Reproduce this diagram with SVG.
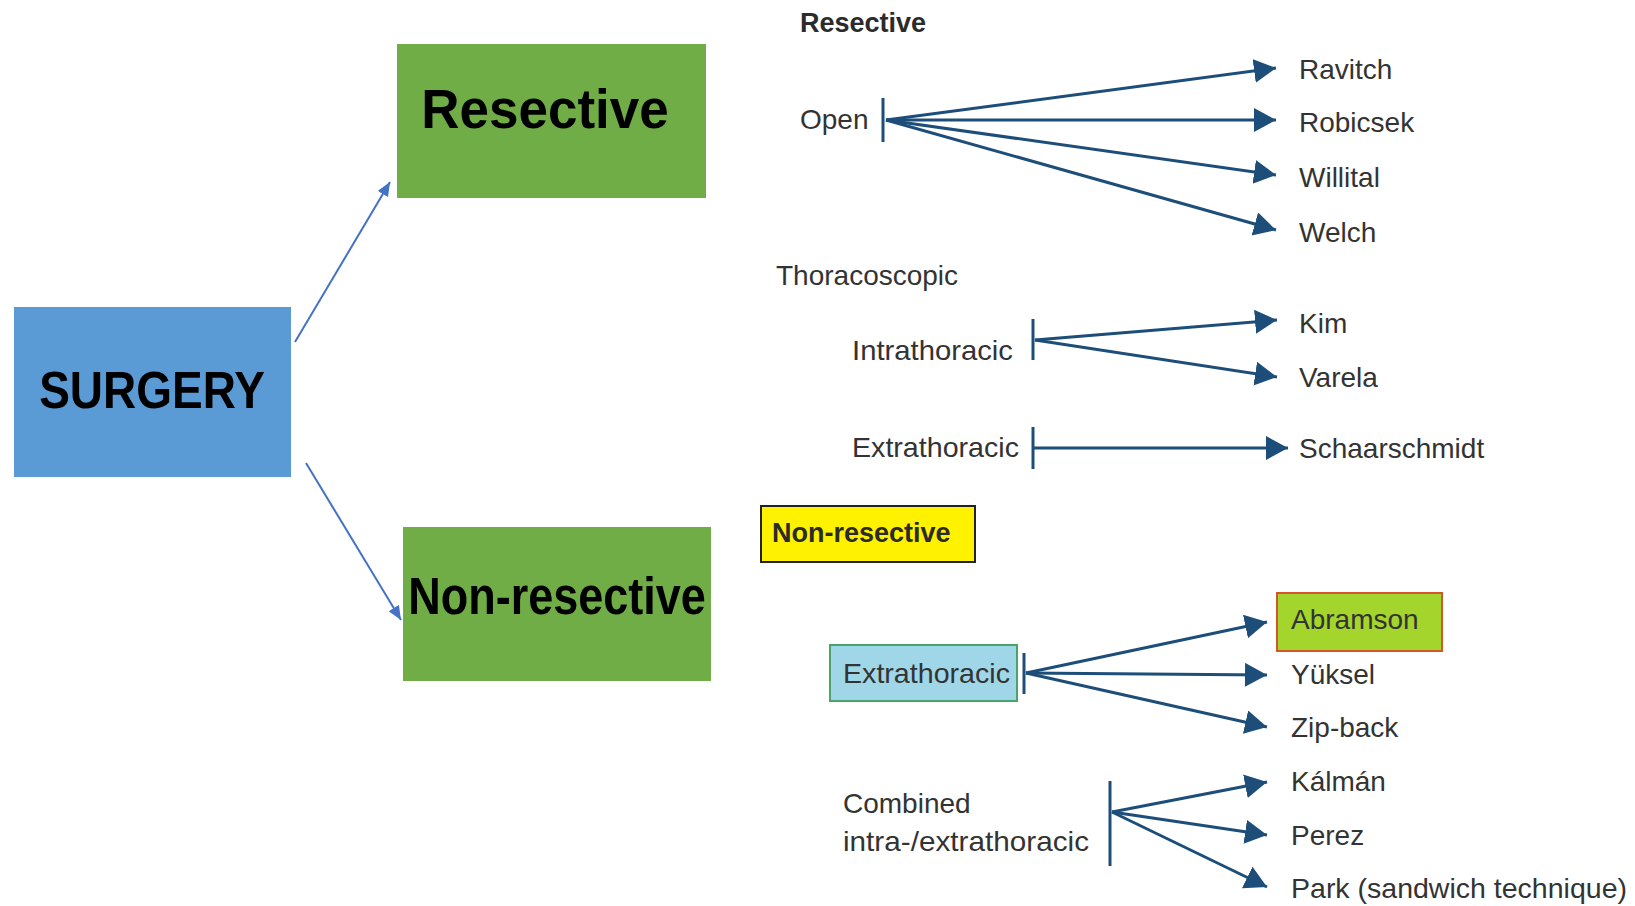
<svg xmlns="http://www.w3.org/2000/svg" width="1635" height="906" viewBox="0 0 1635 906">
<defs>
<marker id="ah" markerUnits="userSpaceOnUse" markerWidth="24" markerHeight="26" refX="22" refY="12" orient="auto">
<path d="M0,0 L22,12 L0,24 z" fill="#1d4e7a"/>
</marker>
<marker id="ahs" markerUnits="userSpaceOnUse" markerWidth="16" markerHeight="14" refX="14" refY="6" orient="auto">
<path d="M0,0 L14,6 L0,12 z" fill="#4472c4"/>
</marker>
<style>
.big{font-family:"Liberation Sans",Arial,sans-serif;font-weight:bold;fill:#000;text-anchor:middle}
.t{font-family:"Liberation Sans",Arial,sans-serif;font-size:28px;fill:#333}
.tb{font-family:"Liberation Sans",Arial,sans-serif;font-size:27px;font-weight:bold;fill:#2b2b2b}
.c{stroke:#1d4e7a;stroke-width:3;fill:none}
.a{stroke:#1d4e7a;stroke-width:3;fill:none;marker-end:url(#ah)}
.la{stroke:#4472c4;stroke-width:2;fill:none;marker-end:url(#ahs)}
</style>
</defs>
<rect width="1635" height="906" fill="#fff"/>

<g id="surgery">
<rect x="14" y="307" width="277" height="170" fill="#5b9bd5"/>
<text class="big" x="0" y="0" font-size="46" transform="translate(152,408) scale(1,1.12)">SURGERY</text>
</g>
<g id="resective">
<rect x="397" y="44" width="309" height="154" fill="#70ad47"/>
<text class="big" x="0" y="0" font-size="53" transform="translate(545,128) scale(1,1.03)">Resective</text>
</g>
<g id="nonresective">
<rect x="403" y="527" width="308" height="154" fill="#70ad47"/>
<text class="big" x="0" y="0" font-size="45" transform="translate(557,614) scale(1,1.15)">Non-resective</text>
</g>

<g id="r-header"><text class="tb" x="800" y="32">Resective</text></g>
<g id="open"><text class="t" x="800" y="129">Open</text></g>
<g id="ravitch"><text class="t" x="1299" y="79">Ravitch</text></g>
<g id="robicsek"><text class="t" x="1299" y="132">Robicsek</text></g>
<g id="willital"><text class="t" x="1299" y="187">Willital</text></g>
<g id="welch"><text class="t" x="1299" y="242">Welch</text></g>
<g id="thoracoscopic"><text class="t" x="776" y="285">Thoracoscopic</text></g>
<g id="intrathoracic"><text class="t" x="852" y="360" textLength="161" lengthAdjust="spacingAndGlyphs">Intrathoracic</text></g>
<g id="kim"><text class="t" x="1299" y="333">Kim</text></g>
<g id="varela"><text class="t" x="1299" y="387">Varela</text></g>
<g id="extrathoracic1"><text class="t" x="852" y="457" textLength="167" lengthAdjust="spacingAndGlyphs">Extrathoracic</text></g>
<g id="schaarschmidt"><text class="t" x="1299" y="458">Schaarschmidt</text></g>

<g id="nr-header">
<rect x="761" y="506" width="214" height="56" fill="#fff200" stroke="#222" stroke-width="2"/>
<text class="tb" x="772" y="542" font-size="28">Non-resective</text>
</g>
<g id="extrathoracic2">
<rect x="830" y="645" width="187" height="56" fill="#9fd6e8" stroke="#4aa36a" stroke-width="2"/>
<text class="t" x="843" y="683" textLength="167" lengthAdjust="spacingAndGlyphs">Extrathoracic</text>
</g>
<g id="abramson">
<rect x="1277" y="593" width="165" height="58" fill="#a4d52c" stroke="#d4552a" stroke-width="2"/>
<text class="t" x="1291" y="629">Abramson</text>
</g>
<g id="yuksel"><text class="t" x="1291" y="684">Yüksel</text></g>
<g id="zipback"><text class="t" x="1291" y="737">Zip-back</text></g>
<g id="combined"><text class="t" x="843" y="813">Combined</text><text class="t" x="843" y="851" textLength="246" lengthAdjust="spacingAndGlyphs">intra-/extrathoracic</text></g>
<g id="kalman"><text class="t" x="1291" y="791">Kálmán</text></g>
<g id="perez"><text class="t" x="1291" y="845">Perez</text></g>
<g id="park"><text class="t" x="1291" y="898" font-size="29" textLength="336" lengthAdjust="spacingAndGlyphs">Park (sandwich technique)</text></g>

<g id="connectors">
<line class="la" x1="295" y1="342" x2="390" y2="182"/>
<line class="la" x1="306" y1="463" x2="401" y2="620"/>

<line class="c" x1="883" y1="98" x2="883" y2="142"/>
<line class="a" x1="886" y1="120" x2="1276" y2="68"/>
<line class="a" x1="886" y1="120" x2="1276" y2="120"/>
<line class="a" x1="886" y1="120" x2="1276" y2="175"/>
<line class="a" x1="886" y1="120" x2="1276" y2="230"/>

<line class="c" x1="1033" y1="319" x2="1033" y2="360"/>
<line class="a" x1="1035" y1="340" x2="1277" y2="320"/>
<line class="a" x1="1035" y1="340" x2="1277" y2="377"/>

<line class="c" x1="1033" y1="427" x2="1033" y2="469"/>
<line class="a" x1="1033" y1="448" x2="1288" y2="448"/>

<line class="c" x1="1024" y1="653" x2="1024" y2="694"/>
<line class="a" x1="1026" y1="673" x2="1267" y2="622"/>
<line class="a" x1="1026" y1="673" x2="1267" y2="675"/>
<line class="a" x1="1026" y1="673" x2="1267" y2="727"/>

<line class="c" x1="1110" y1="781" x2="1110" y2="866"/>
<line class="a" x1="1112" y1="812" x2="1267" y2="782"/>
<line class="a" x1="1112" y1="812" x2="1267" y2="835"/>
<line class="a" x1="1112" y1="812" x2="1267" y2="887"/>
</g>
</svg>
